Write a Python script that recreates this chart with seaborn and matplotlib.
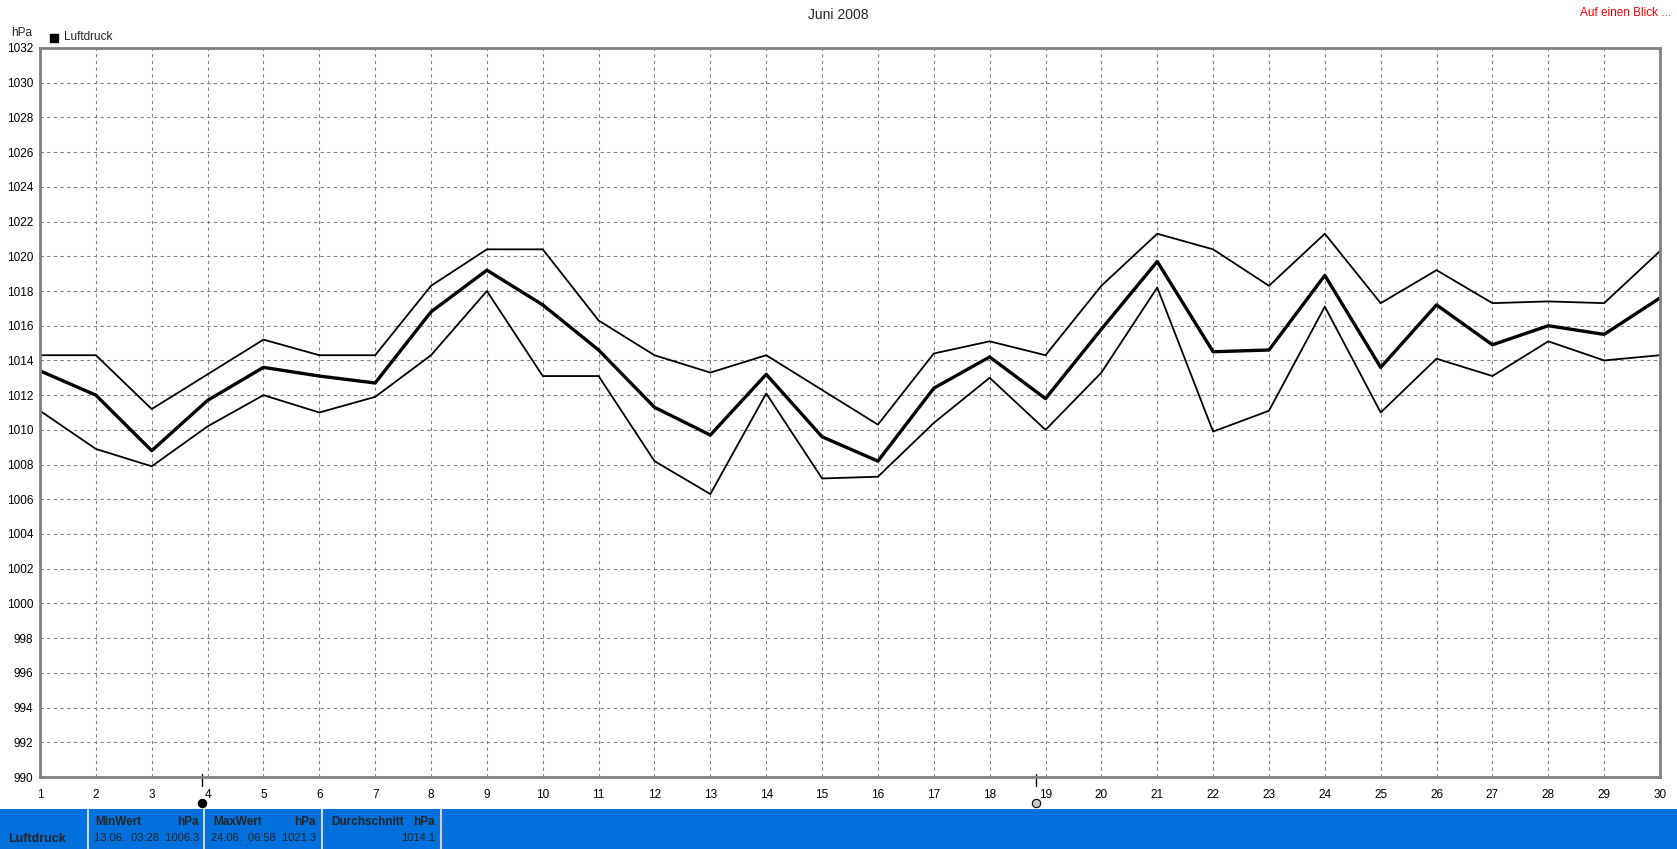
import pandas as pd
import seaborn as sns
import matplotlib.pyplot as plt
from matplotlib.patches import Rectangle

##
# data (daily pressure, hPa)

days = list(range(1, 31))
p_max = [1014.3, 1014.3, 1011.2, 1013.2, 1015.2, 1014.3, 1014.3, 1018.3, 1020.4, 1020.4,
         1016.3, 1014.3, 1013.3, 1014.3, 1012.3, 1010.3, 1014.4, 1015.1, 1014.3, 1018.3,
         1021.3, 1020.4, 1018.3, 1021.3, 1017.3, 1019.2, 1017.3, 1017.4, 1017.3, 1020.3]
p_mean = [1013.4, 1012.0, 1008.8, 1011.7, 1013.6, 1013.1, 1012.7, 1016.8, 1019.2, 1017.2,
          1014.6, 1011.3, 1009.7, 1013.2, 1009.6, 1008.2, 1012.4, 1014.2, 1011.8, 1015.8,
          1019.7, 1014.5, 1014.6, 1018.9, 1013.6, 1017.2, 1014.9, 1016.0, 1015.5, 1017.6]
p_min = [1011.1, 1008.9, 1007.9, 1010.2, 1012.0, 1011.0, 1011.9, 1014.3, 1018.0, 1013.1,
         1013.1, 1008.2, 1006.3, 1012.1, 1007.2, 1007.3, 1010.4, 1013.0, 1010.0, 1013.3,
         1018.2, 1009.9, 1011.1, 1017.1, 1011.0, 1014.1, 1013.1, 1015.1, 1014.0, 1014.3]

y_ticks = list(range(990, 1033, 2))
stat_labels = ['MinWert', 'MaxWert', 'Durchschnitt']
stat_values = ['13.06.  03:28  1006.3', '24.06.  06:58  1021.3', '1014.1']

df = pd.DataFrame({'day': days, 'max': p_max, 'mean': p_mean, 'min': p_min})

##
# figure

W, H = 1677, 849
sns.set_theme(style='white')
plt.rcParams['font.family'] = ['Liberation Sans', 'DejaVu Sans']
plt.rcParams['font.size'] = 8.5

fig = plt.figure(figsize=(W / 100, H / 100), dpi=100)
ax = fig.add_axes([40 / W, 1 - 777 / H, 1620 / W, 729 / H])

grey = '#808080'
sns.lineplot(data=df, x='day', y='max', color='black', lw=1.3, ax=ax)
sns.lineplot(data=df, x='day', y='min', color='black', lw=1.3, ax=ax)
sns.lineplot(data=df, x='day', y='mean', color='black', lw=2.4, ax=ax)

ax.set_xlim(1, 30)
ax.set_ylim(990, 1032)
ax.set_xticks(days)
ax.set_yticks(y_ticks)
ax.set_xlabel('')
ax.set_ylabel('')
ax.grid(True, color=grey, ls=(0, (3, 3)), lw=0.8)
for s in ax.spines.values():
    s.set_color(grey)
    s.set_linewidth(2)
ax.tick_params(axis='both', direction='out', length=3, width=1, color=grey,
               labelsize=8.5, labelcolor='black', pad=2)
ax.tick_params(axis='x', pad=6)

# cursor markers below the axis
for xm, fc in [(3.9, 'black'), (18.83, '#c8c8c8')]:
    trans = ax.get_xaxis_transform()
    ax.plot([xm, xm], [0.004, -0.0125], color='black', lw=1, transform=trans, clip_on=False)
    ax.plot([xm], [-0.036], marker='o', ms=6, mfc=fc, mec='black', mew=0.8,
            transform=trans, clip_on=False)

# texts at the top
fig.text(838 / W, 1 - 15 / H, 'Juni 2008', ha='center', va='center', fontsize=10)
fig.text(1 - 6 / W, 1 - 13 / H, 'Auf einen Blick ...', ha='right', va='center',
         fontsize=8.5, color='red')
fig.text(11 / W, 1 - 33 / H, 'hPa', ha='left', va='center', fontsize=8.5)
fig.add_artist(Rectangle((50 / W, 1 - 42 / H), 8 / W, 8 / H, color='black',
                         transform=fig.transFigure))
fig.text(64 / W, 1 - 37 / H, 'Luftdruck', ha='left', va='center', fontsize=8.5)

##
# blue statistics bar

bar = fig.add_axes([0, 0, 1, 40 / H])
bar.set_facecolor('#0070dd')
bar.set_xlim(0, W)
bar.set_ylim(40, 0)
bar.set_xticks([])
bar.set_yticks([])
for s in bar.spines.values():
    s.set_visible(False)

for xs in [88, 204, 322, 441]:
    bar.plot([xs, xs], [0, 40], color='#d0d0d0', lw=1.5)

bar.text(8, 30, 'Luftdruck', fontsize=9, weight='bold', va='center', ha='left')
cells = [(95, 199), (213, 316), (331, 435)]
for (x0, x1), lab, val in zip(cells, stat_labels, stat_values):
    bar.text(x0, 13, lab, fontsize=8.5, weight='bold', va='center', ha='left')
    bar.text(x1, 13, 'hPa', fontsize=8.5, weight='bold', va='center', ha='right')
    bar.text(x1, 29, val, fontsize=8, va='center', ha='right')

fig.savefig('out.png', dpi=100)
